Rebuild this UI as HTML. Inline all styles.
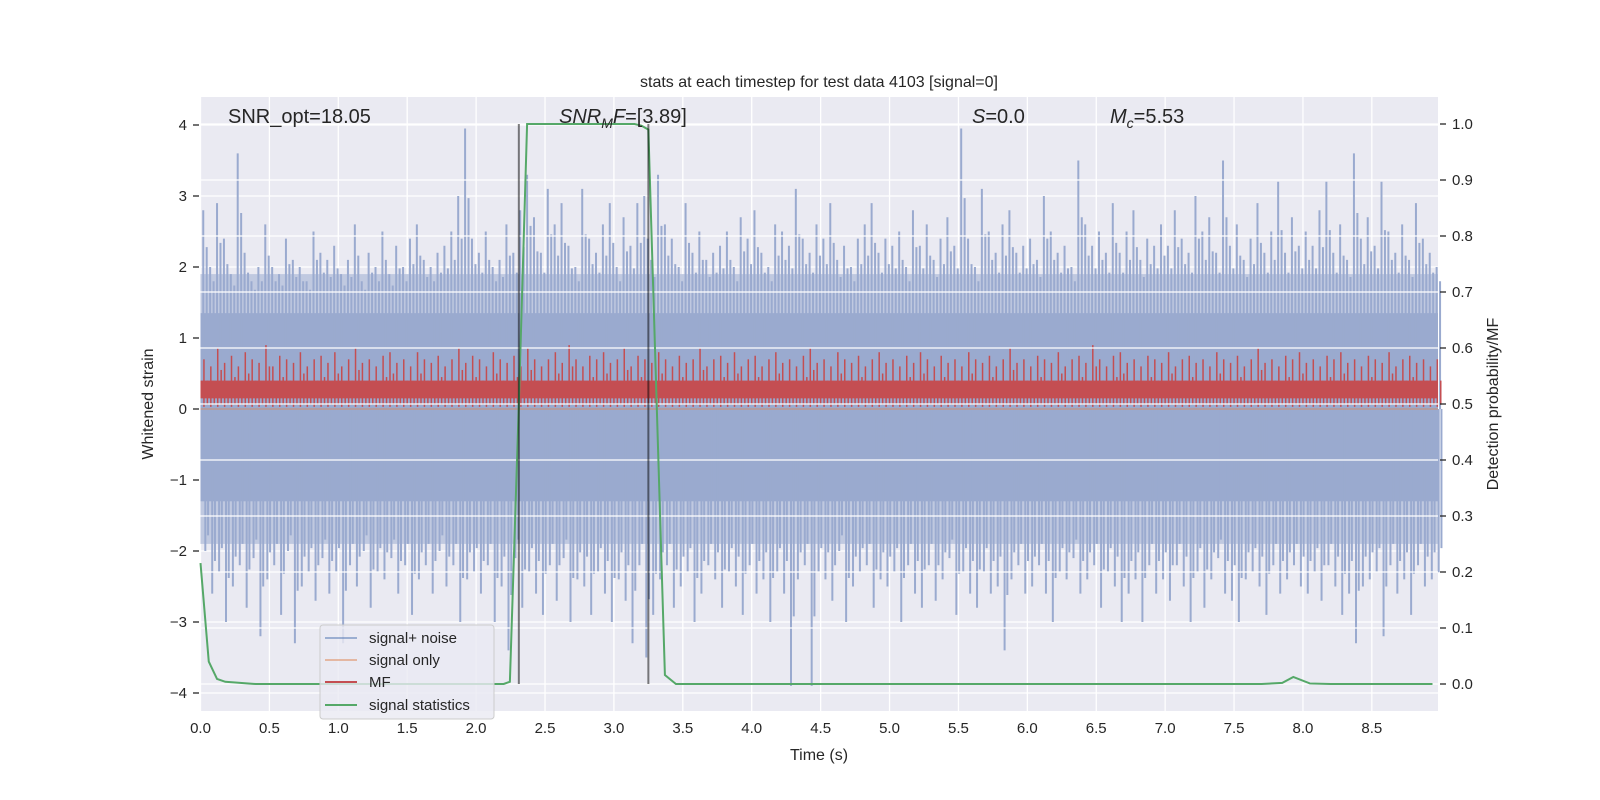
<!DOCTYPE html>
<html><head><meta charset="utf-8"><style>
body{margin:0;background:#fff;}
svg{display:block;font-family:"Liberation Sans","DejaVu Sans",sans-serif;}
</style></head><body>
<svg id="chart" width="1600" height="800" viewBox="0 0 1600 800">
<rect x="0" y="0" width="1600" height="800" fill="#fff"/>
<rect x="200.5" y="97" width="1237.5" height="614" fill="#eaeaf2"/>
<g id="leftGrid"></g><g id="noise"></g><g id="mf"></g><g id="sigonly"></g><g id="rightGrid"></g><g id="stat"></g><g id="vlines"></g><g id="axes"></g>
<text x="819" y="87" text-anchor="middle" font-size="16" fill="#262626">stats at each timestep for test data 4103 [signal=0]</text>
<text x="228" y="123" font-size="20" fill="#262626">SNR_opt=18.05</text>
<text x="559" y="123" font-size="20" fill="#262626"><tspan font-style="italic">SNR</tspan><tspan font-style="italic" font-size="14" dy="5">M</tspan><tspan font-style="italic" dy="-5">F</tspan>=[3.89]</text>
<text x="972" y="123" font-size="20" fill="#262626"><tspan font-style="italic">S</tspan>=0.0</text>
<text x="1110" y="123" font-size="20" fill="#262626"><tspan font-style="italic">M</tspan><tspan font-style="italic" font-size="14" dy="5">c</tspan><tspan dy="-5">=5.53</tspan></text>
<text x="819" y="760" text-anchor="middle" font-size="16" fill="#262626">Time (s)</text>
<text transform="translate(153,404) rotate(-90)" text-anchor="middle" font-size="16" fill="#262626">Whitened strain</text>
<text transform="translate(1498,404) rotate(-90)" text-anchor="middle" font-size="16" fill="#262626">Detection probability/MF</text>
<g>
<rect x="320" y="625" width="174" height="94" rx="3" fill="#eaeaf2" fill-opacity="0.8" stroke="#cccccc"/>
<line x1="325" y1="638" x2="357" y2="638" stroke="#4c72b0" stroke-opacity="0.5" stroke-width="2"/>
<text x="369" y="643" font-size="15" fill="#262626">signal+ noise</text>
<line x1="325" y1="660" x2="357" y2="660" stroke="#dd8452" stroke-opacity="0.5" stroke-width="2"/>
<text x="369" y="665" font-size="15" fill="#262626">signal only</text>
<line x1="325" y1="682" x2="357" y2="682" stroke="#c44e52" stroke-width="2"/>
<text x="369" y="687" font-size="15" fill="#262626">MF</text>
<line x1="325" y1="705" x2="357" y2="705" stroke="#55a868" stroke-width="2"/>
<text x="369" y="710" font-size="15" fill="#262626">signal statistics</text>
</g>
</svg>
<script>
const xTicks=[0,0.5,1,1.5,2,2.5,3,3.5,4,4.5,5,5.5,6,6.5,7,7.5,8,8.5];
const yTicks=[-4,-3,-2,-1,0,1,2,3,4];
const rTicks=[0,0.1,0.2,0.3,0.4,0.5,0.6,0.7,0.8,0.9,1.0];
const noiseStep=0.05;
const noiseUp=[2.8,2.0,2.9,2.4,1.9,3.6,2.2,1.8,2.0,2.6,2.0,1.9,2.4,2.1,2.0,1.8,2.5,2.2,2.1,2.3,
1.9,2.1,2.6,1.8,2.2,2.0,2.5,1.9,2.3,2.0,2.4,2.6,2.1,2.0,2.2,2.3,2.5,3.0,3.95,2.4,
2.2,2.5,2.0,2.1,2.6,2.2,2.8,3.3,2.7,2.2,3.1,2.6,2.9,2.3,2.0,3.1,2.4,2.2,2.6,2.9,
2.0,2.7,2.3,2.9,3.0,2.1,3.3,2.6,2.4,2.0,2.9,2.2,2.5,2.1,2.2,2.3,2.5,2.0,2.7,2.4,
2.8,2.2,2.0,2.6,2.5,2.3,3.1,2.4,2.2,2.6,2.4,2.9,2.1,2.3,2.0,2.4,2.6,2.9,2.2,2.4,
2.3,2.5,2.0,2.8,2.3,2.6,2.1,2.4,2.7,2.3,3.95,2.4,2.0,3.1,2.5,2.2,2.6,2.8,2.2,2.3,
2.4,2.1,3.0,2.5,2.2,2.3,2.0,3.5,2.6,2.3,2.5,2.2,2.9,2.2,2.5,2.8,2.1,2.4,2.3,2.6,
2.3,2.8,2.4,2.2,3.0,2.5,2.7,2.2,3.5,2.3,2.6,2.1,2.4,2.9,2.2,2.5,3.2,2.2,2.7,2.3,
2.5,2.3,2.8,3.2,2.2,2.6,2.1,3.6,2.4,2.7,2.3,3.2,2.5,2.2,2.6,2.1,2.9,2.4,2.2,2.0];
const noiseDown=[-2.0,-2.6,-2.3,-3.0,-2.5,-2.2,-2.8,-2.1,-3.2,-2.4,-2.2,-2.9,-2.0,-3.3,-2.5,-2.3,-2.7,-2.1,-2.6,-2.3,
-3.3,-2.2,-2.5,-2.0,-2.8,-2.3,-2.4,-2.1,-2.6,-2.2,-2.9,-2.4,-2.2,-2.6,-2.0,-2.5,-2.2,-3.0,-2.4,-2.3,
-2.6,-2.2,-3.0,-2.5,-3.4,-2.1,-2.8,-2.3,-2.6,-2.9,-2.2,-2.7,-2.1,-3.0,-2.4,-2.5,-2.9,-2.3,-2.6,-3.0,
-2.4,-2.7,-3.3,-2.2,-3.5,-2.9,-2.4,-2.2,-2.8,-2.5,-2.3,-3.0,-2.6,-2.2,-2.4,-2.8,-2.3,-2.5,-2.9,-2.2,
-2.6,-2.4,-3.0,-2.3,-2.6,-3.9,-2.4,-2.2,-3.9,-2.3,-2.4,-2.7,-2.0,-3.0,-2.5,-2.3,-2.2,-2.8,-2.4,-2.5,
-2.3,-3.0,-2.2,-2.6,-2.8,-2.2,-2.7,-2.4,-2.1,-2.9,-2.3,-2.6,-2.8,-2.3,-2.6,-2.5,-3.4,-2.4,-2.2,-2.6,
-2.5,-2.2,-2.6,-3.0,-2.3,-2.4,-2.1,-2.6,-2.4,-2.2,-2.8,-2.3,-2.5,-3.0,-2.6,-2.4,-3.0,-2.2,-2.6,-2.4,
-2.7,-2.2,-2.5,-3.0,-2.3,-2.8,-2.4,-2.1,-2.6,-2.7,-3.0,-2.4,-2.3,-2.5,-2.9,-2.2,-2.6,-2.4,-2.2,-2.5,
-2.6,-2.3,-2.7,-2.2,-2.5,-2.9,-2.6,-3.3,-2.5,-2.4,-2.3,-3.2,-2.2,-2.6,-2.4,-2.9,-2.2,-2.5,-2.4,-2.3];
const mfPeak=[0.7,0.6,0.85,0.65,0.75,0.6,0.8,0.7,0.65,0.9,0.6,0.75,0.7,0.65,0.8,0.6,0.7,0.75,0.65,0.8,
0.6,0.7,0.85,0.65,0.7,0.6,0.75,0.8,0.65,0.7,0.6,0.8,0.7,0.65,0.75,0.6,0.7,0.85,0.65,0.75,
0.7,0.6,0.8,0.7,0.65,0.75,0.6,0.85,0.7,0.6,0.7,0.8,0.65,0.9,0.7,0.6,0.75,0.7,0.8,0.65,
0.7,0.85,0.6,0.75,0.7,0.65,0.8,0.7,0.6,0.75,0.65,0.7,0.85,0.6,0.7,0.75,0.65,0.8,0.6,0.7,
0.75,0.6,0.7,0.8,0.65,0.7,0.6,0.75,0.85,0.65,0.7,0.6,0.8,0.7,0.65,0.75,0.6,0.7,0.8,0.65,
0.7,0.6,0.75,0.65,0.8,0.7,0.6,0.75,0.65,0.7,0.6,0.8,0.7,0.65,0.75,0.6,0.7,0.85,0.65,0.7,
0.6,0.75,0.7,0.65,0.8,0.6,0.7,0.75,0.65,0.9,0.7,0.6,0.75,0.8,0.65,0.7,0.6,0.75,0.7,0.65,
0.8,0.6,0.7,0.75,0.65,0.7,0.6,0.8,0.7,0.65,0.75,0.6,0.7,0.85,0.65,0.7,0.6,0.75,0.7,0.8,
0.65,0.7,0.6,0.75,0.7,0.8,0.65,0.7,0.6,0.75,0.7,0.65,0.8,0.6,0.7,0.75,0.65,0.7,0.6,0.7];
const statTimes=[0,0.06,0.12,0.18,0.4,1.0,2.0,2.2,2.245,2.31,2.37,2.5,3.0,3.15,3.2,3.25,3.37,3.45,4.0,5.0,6.0,7.0,7.7,7.85,7.93,8.05,8.2,8.94];
const statVals=[0.216,0.04,0.009,0.004,0.0,0.0,0.0,0.0,0.004,0.5,1.0,1.0,1.0,1.0,0.997,0.99,0.016,0.0,0.0,0.0,0.0,0.0,0.0,0.002,0.0125,0.001,0.0,0.0];
const markerTimes=[2.31,3.25];

const X0=200.5,X1=1438,XMAX=8.98,YT=97,YB=711;
const xs=t=>X0+t*(X1-X0)/XMAX;
const yl=v=>409-v*71;
const yr=v=>684-v*560;
const NS='http://www.w3.org/2000/svg';
const BLUE='#9aaacf',BLUE_LIGHT='#c0c9e0';
function mk(tag,parent,attrs){const e=document.createElementNS(NS,tag);for(const k in attrs)e.setAttribute(k,attrs[k]);document.getElementById(parent).appendChild(e);return e;}

for(const t of xTicks){const l=mk('line','leftGrid',{x1:xs(t),x2:xs(t),y1:YT,y2:YB,stroke:'#fff','stroke-width':1.3});

}
for(const v of yTicks){const l=mk('line','leftGrid',{x1:X0,x2:X1,y1:yl(v),y2:yl(v),stroke:'#fff','stroke-width':1.3});

}

const halo=mk('rect','noise',{x:xs(0),y:yl(1.9),width:xs(8.98)-xs(0),height:yl(-1.9)-yl(1.9),fill:BLUE_LIGHT});


const core=mk('rect','noise',{x:xs(0),y:yl(1.35),width:xs(8.98)-xs(0),height:yl(-1.3)-yl(1.35),fill:BLUE});


noiseUp.forEach((v,i)=>{const t=i*noiseStep+0.02;const l=mk('line','noise',{x1:xs(t),x2:xs(t),y1:yl(0),y2:yl(v),stroke:BLUE,'stroke-width':2});


const v2=1.5+(v-1.5)*0.6;const l2=mk('line','noise',{x1:xs(t+0.025),x2:xs(t+0.025),y1:yl(0),y2:yl(v2),stroke:BLUE,'stroke-width':2});

});
noiseDown.forEach((v,i)=>{const t=i*noiseStep+0.035;const l=mk('line','noise',{x1:xs(t),x2:xs(t),y1:yl(0),y2:yl(v),stroke:BLUE,'stroke-width':2});


const v2=-1.45+(v+1.45)*0.6;const l2=mk('line','noise',{x1:xs(t+0.02),x2:xs(t+0.02),y1:yl(0),y2:yl(v2),stroke:BLUE,'stroke-width':2});

});

const mfBand=mk('rect','mf',{x:xs(0),y:yl(0.4),width:xs(8.98)-xs(0),height:yl(0.15)-yl(0.4),fill:'#c44e52'});


mfPeak.forEach((v,i)=>{const t=i*noiseStep+0.025;const l=mk('line','mf',{x1:xs(t),x2:xs(t),y1:yl(0.03),y2:yl(v),stroke:'#c44e52','stroke-width':1.5});


const l2=mk('line','mf',{x1:xs(t+0.025),x2:xs(t+0.025),y1:yl(0.06),y2:yl(0.3+(v-0.6)),stroke:'#c44e52','stroke-width':1.5});

});

const so=mk('line','sigonly',{x1:xs(0),x2:xs(8.98),y1:yl(0),y2:yl(0),stroke:'#dd8452','stroke-opacity':0.5,'stroke-width':1.5});



for(const v of rTicks){const l=mk('line','rightGrid',{x1:X0,x2:X1,y1:yr(v),y2:yr(v),stroke:'#fff','stroke-width':1.3});

}

const pts=statTimes.map((t,i)=>xs(t)+','+yr(statVals[i])).join(' ');
const sl=mk('polyline','stat',{points:pts,fill:'none',stroke:'#55a868','stroke-width':2});



for(const t of markerTimes){const l=mk('line','vlines',{x1:xs(t),x2:xs(t),y1:yr(1),y2:yr(0),stroke:'#000','stroke-opacity':0.5,'stroke-width':2});

}

for(const t of xTicks){const tx=mk('text','axes',{x:xs(t),y:733,'text-anchor':'middle','font-size':15,fill:'#262626'});tx.textContent=t.toFixed(1);

}
for(const v of yTicks){const tk=mk('line','axes',{x1:193,x2:199,y1:yl(v),y2:yl(v),stroke:'#262626','stroke-width':1.3});


const tx=mk('text','axes',{x:187,y:yl(v)+5,'text-anchor':'end','font-size':15,fill:'#262626'});tx.textContent=(v<0?'\u2212'+(-v):''+v);

}
for(const v of rTicks){const tk=mk('line','axes',{x1:1440,x2:1446,y1:yr(v),y2:yr(v),stroke:'#262626','stroke-width':1.3});


const tx=mk('text','axes',{x:1452,y:yr(v)+5,'font-size':15,fill:'#262626'});tx.textContent=v.toFixed(1);

}
</script>
</body></html>
